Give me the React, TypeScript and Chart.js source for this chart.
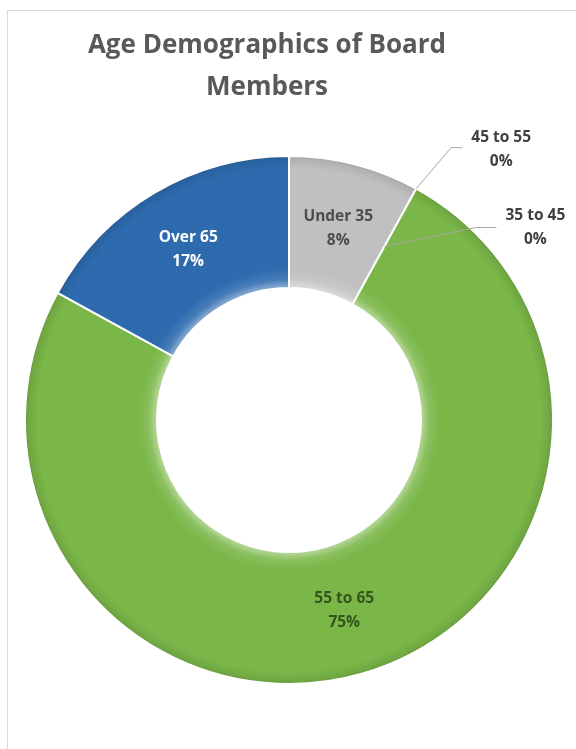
import React, { useEffect, useRef } from "react";
import { Chart, registerables } from "chart.js";

Chart.register(...registerables);

const categories = ["Under 35", "35 to 45", "45 to 55", "55 to 65", "Over 65"];
const percentages = [8, 0, 0, 75, 17];
const sliceColors = ["#c0c0c0", "#7ab648", "#7ab648", "#7ab648", "#2e6bae"];
const labelColors = ["#4d4d4d", "#404040", "#404040", "#34561c", "#ffffff"];
const titleLines = ["Age Demographics of Board", "Members"];

const FONT = '"Open Sans", "Liberation Sans", sans-serif';

function mix(hex: string, target: number, amt: number): string {
  const n = parseInt(hex.slice(1), 16);
  const r = (n >> 16) & 255, g = (n >> 8) & 255, b = n & 255;
  const f = (c: number) => Math.round(c + (target - c) * amt);
  return `rgb(${f(r)},${f(g)},${f(b)})`;
}

const titlePlugin = {
  id: "leftTitle",
  afterDraw(chart: any) {
    const ctx = chart.ctx;
    const area = chart.chartArea;
    const cx = (area.left + area.right) / 2 - 22;
    ctx.save();
    ctx.font = `bold 26px ${FONT}`;
    ctx.fillStyle = "#595959";
    ctx.textAlign = "center";
    ctx.textBaseline = "middle";
    titleLines.forEach((t, i) => ctx.fillText(t, cx, 46 + i * 42));
    ctx.restore();
  },
};

const sliceLabelPlugin = {
  id: "sliceLabels",
  afterDatasetsDraw(chart: any) {
    const ctx = chart.ctx;
    const meta = chart.getDatasetMeta(0);
    ctx.save();
    ctx.font = `bold 15.5px ${FONT}`;
    ctx.textAlign = "center";
    ctx.textBaseline = "middle";
    let zeroCount = 0;
    meta.data.forEach((arc: any, i: number) => {
      const v = percentages[i];
      const name = categories[i];
      const pct = `${v}%`;
      const { x, y, startAngle, endAngle, innerRadius, outerRadius } = arc.getProps(
        ["x", "y", "startAngle", "endAngle", "innerRadius", "outerRadius"],
        true
      );
      if (v > 0) {
        const mid = (startAngle + endAngle) / 2;
        const r = (innerRadius + outerRadius) / 2;
        const cx = x + Math.cos(mid) * r;
        const cy = y + Math.sin(mid) * r;
        ctx.fillStyle = labelColors[i];
        ctx.fillText(name, cx, cy - 11.5);
        ctx.fillText(pct, cx, cy + 12);
      } else {
        // zero-size slice: label outside with a leader line
        const a = startAngle;
        const cos = Math.cos(a), sin = Math.sin(a);
        const rad = zeroCount === 0 ? (innerRadius + outerRadius) / 2 : outerRadius;
        const sx = x + cos * rad;
        const sy = y + sin * rad;
        let ex: number, ey: number, hx: number, lx: number, ly: number;
        if (zeroCount === 0) {
          ex = sx + 92; ey = sy - 19; hx = ex + 20; lx = hx + 39; ly = ey;
        } else {
          ex = sx + 35; ey = sy - 41; hx = ex + 11; lx = hx + 39; ly = ey + 1.5;
        }
        ctx.strokeStyle = "#a6a6a6";
        ctx.lineWidth = 1;
        ctx.beginPath();
        ctx.moveTo(sx, sy);
        ctx.lineTo(ex, ey);
        ctx.lineTo(hx, ey);
        ctx.stroke();
        ctx.fillStyle = labelColors[i];
        ctx.fillText(name, lx, ly - 12);
        ctx.fillText(pct, lx, ly + 12);
        zeroCount++;
      }
    });
    ctx.restore();
  },
};

export default function App() {
  const ref = useRef<HTMLCanvasElement | null>(null);

  useEffect(() => {
    if (!ref.current) return;
    const chart = new Chart(ref.current, {
      type: "doughnut",
      data: {
        labels: categories,
        datasets: [
          {
            data: percentages,
            backgroundColor: (c: any) => {
              const base = sliceColors[c.dataIndex] || "#7ab648";
              const area = c.chart.chartArea;
              if (!area) return base;
              const x = (area.left + area.right) / 2;
              const y = (area.top + area.bottom) / 2;
              const outer = Math.min(area.right - area.left, area.bottom - area.top) / 2;
              const inner = outer * 0.5;
              const g = c.chart.ctx.createRadialGradient(x, y, inner, x, y, outer);
              g.addColorStop(0, mix(base, 255, 0.45));
              g.addColorStop(0.06, mix(base, 255, 0.12));
              g.addColorStop(0.14, base);
              g.addColorStop(0.9, base);
              g.addColorStop(0.97, mix(base, 0, 0.08));
              g.addColorStop(1, mix(base, 0, 0.2));
              return g;
            },
            borderColor: "#ffffff",
            borderWidth: 2,
          },
        ],
      },
      options: {
        animation: false,
        responsive: true,
        maintainAspectRatio: false,
        cutout: "50%",
        layout: { padding: { top: 155, bottom: 64, left: 24, right: 22 } },
        plugins: {
          legend: { display: false },
          tooltip: { enabled: false },
          title: { display: false },
        },
      },
      plugins: [sliceLabelPlugin, titlePlugin],
    });
    return () => chart.destroy();
  }, []);

  return (
    <div
      style={{
        position: "fixed",
        left: 0,
        top: 0,
        width: 576,
        height: 749,
        overflow: "hidden",
        background: "#ffffff",
      }}
    >
      <div
        style={{
          position: "absolute",
          left: 7,
          top: 10,
          width: 700,
          height: 900,
          border: "1px solid #d9d9d9",
          boxSizing: "border-box",
        }}
      />
      <div style={{ position: "absolute", left: 0, top: 0, width: 576, height: 749 }}>
        <canvas ref={ref} />
      </div>
    </div>
  );
}
